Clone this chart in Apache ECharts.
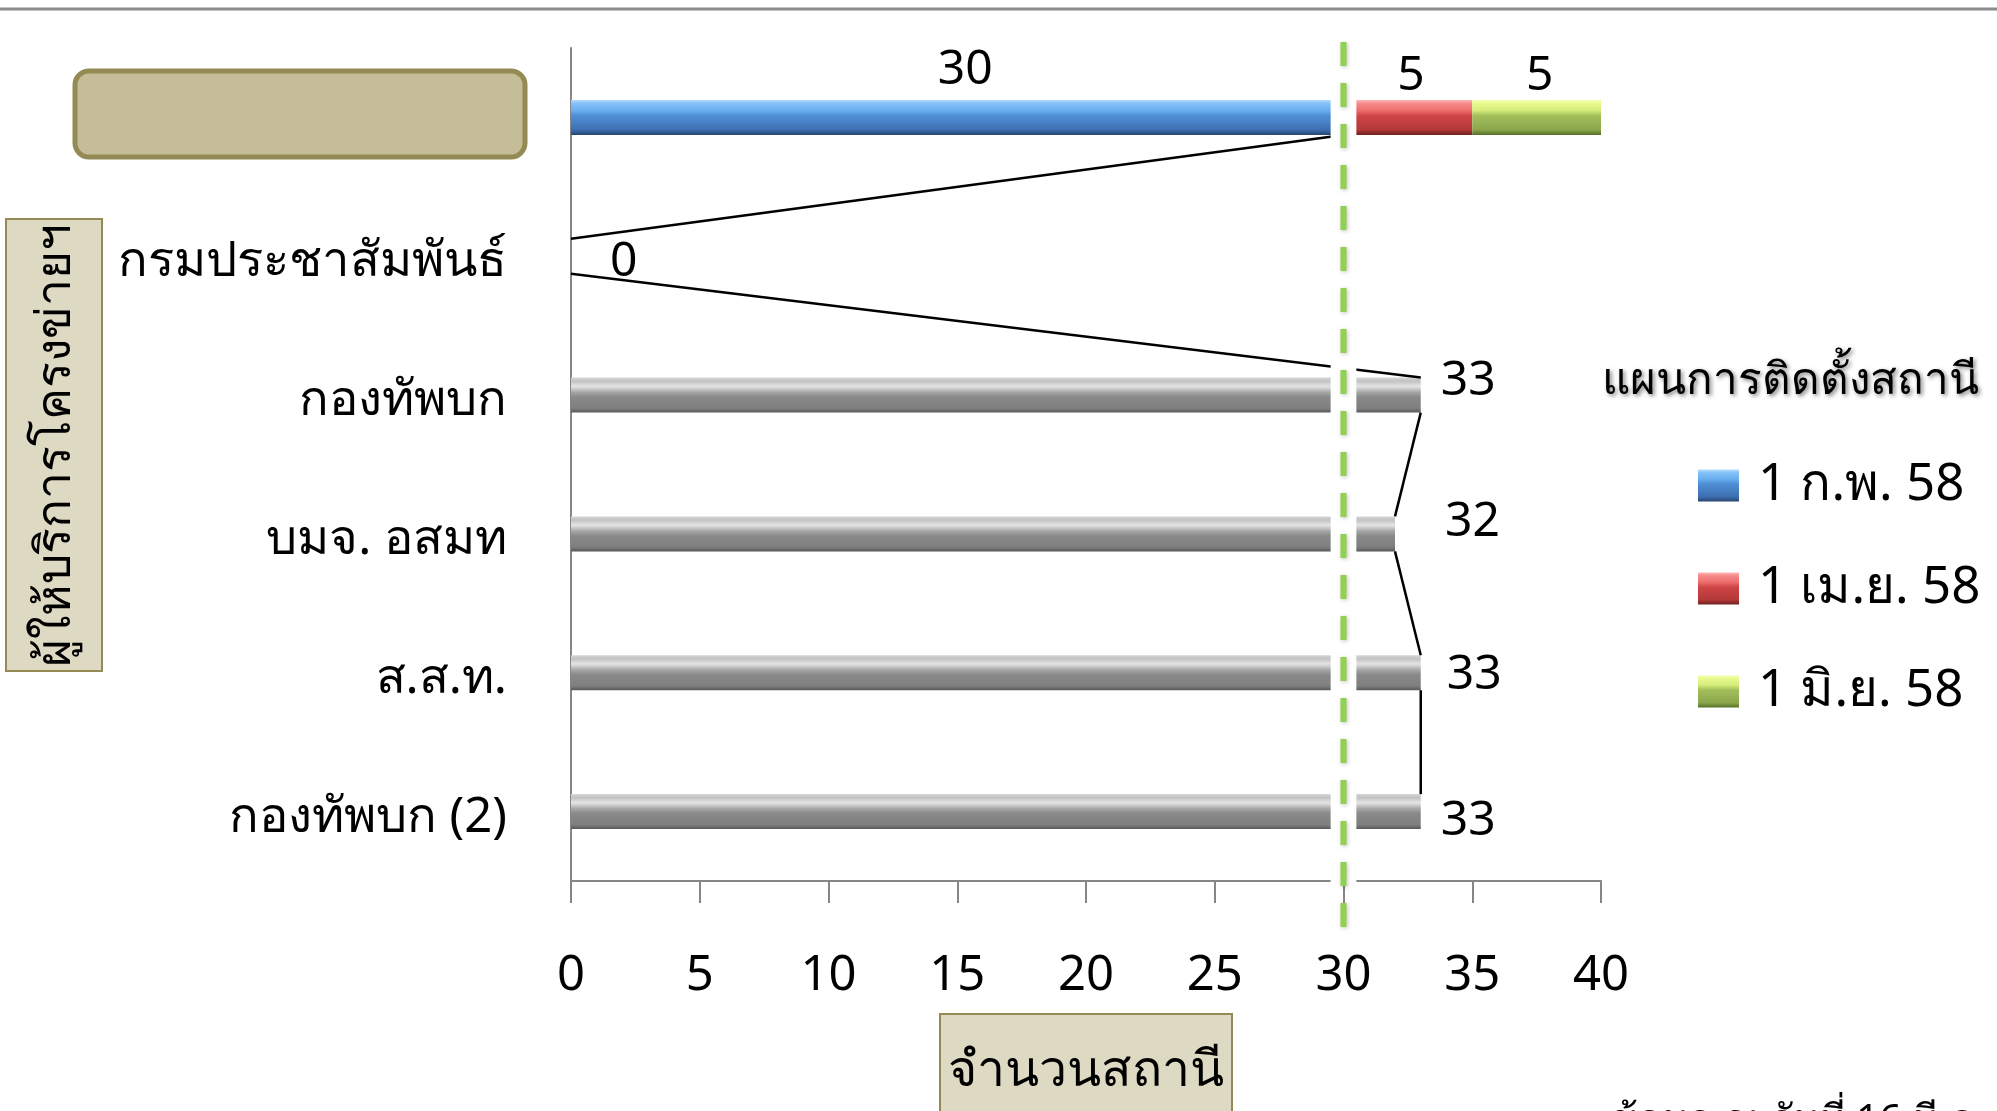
<!DOCTYPE html>
<html>
<head>
<meta charset="utf-8">
<script src="https://cdn.jsdelivr.net/npm/echarts@6/dist/echarts.min.js"></script>
<style>
html,body{margin:0;padding:0;background:#fff;}
#chart{width:1997px;height:1111px;}
</style>
</head>
<body>
<div id="chart"></div>
<script>
// ---- data ----
const categories = ['', 'กรมประชาสัมพันธ์', 'กองทัพบก', 'บมจ. อสมท', 'ส.ส.ท.', 'กองทัพบก (2)'];
const seriesNames = ['1 ก.พ. 58', '1 เม.ย. 58', '1 มิ.ย. 58'];
const febValues = [30, 0, 33, 32, 33, 33];
const aprValues = [5, null, null, null, null, null];
const junValues = [5, null, null, null, null, null];
const xTicks = [0, 5, 10, 15, 20, 25, 30, 35, 40];
const targetValue = 30;

// ---- styles ----
const FONT = "'Noto Sans', 'DejaVu Sans', sans-serif";
const BAR_W = 35;
const grad = (stops) => new echarts.graphic.LinearGradient(0, 0, 0, 1, stops.map((c) => ({offset: c[0], color: c[1]})));
const blueGrad = grad([[0,'#b6dcff'],[0.1,'#84c2f8'],[0.3,'#6aaef0'],[0.45,'#4f8fd6'],[0.85,'#3d6fb0'],[1,'#28456f']]);
const redGrad = grad([[0,'#ffb8b8'],[0.1,'#f78a8a'],[0.3,'#ee6e6e'],[0.45,'#cf4646'],[0.85,'#b33838'],[1,'#702020']]);
const greenGrad = grad([[0,'#f6ffb0'],[0.1,'#e8fb8e'],[0.3,'#d4ec78'],[0.45,'#a3bf5c'],[0.85,'#8ba64b'],[1,'#56702a']]);
const grayGrad = grad([[0,'#d6d6d6'],[0.1,'#c2c2c2'],[0.25,'#e4e4e4'],[0.42,'#a6a6a6'],[0.55,'#8a8a8a'],[0.88,'#7e7e7e'],[1,'#585858']]);
// per-row label placement for first series (style only)
const febLabelStyle = [
  {position: 'top', distance: 6, offset: [8, 0]},
  {position: 'right', distance: 39, offset: [0, 6]},
  {position: 'right', distance: 20, offset: [0, -14]},
  {position: 'right', distance: 50, offset: [0, -12]},
  {position: 'right', distance: 26, offset: [0, 3]},
  {position: 'right', distance: 20, offset: [0, 10]}
];

const chart = echarts.init(document.getElementById('chart'), null, {renderer: 'canvas'});

const labelBase = {show: true, color: '#000', fontSize: 48, fontFamily: FONT};

const febData = febValues.map((v, i) => ({
  value: v,
  itemStyle: {color: i === 0 ? blueGrad : grayGrad},
  label: Object.assign({}, labelBase, febLabelStyle[i])
}));

// series lines connecting bar ends of the first series
const seriesLineData = [];
for (let i = 0; i < febValues.length - 1; i++) {
  seriesLineData.push([febValues[i], i, febValues[i + 1], i + 1]);
}

const option = {
  backgroundColor: '#fff',
  animation: false,
  textStyle: {fontFamily: FONT},
  title: {
    text: 'แผนการติดตั้งสถานี',
    left: 1597, top: 354,
    textStyle: {
      fontFamily: FONT, fontSize: 44, fontWeight: 'normal', color: '#000',
      textShadowColor: 'rgba(0,0,0,0.5)', textShadowBlur: 4, textShadowOffsetX: 2, textShadowOffsetY: 2
    }
  },
  legend: {
    orient: 'vertical',
    left: 1693, top: 455,
    itemWidth: 41, itemHeight: 32,
    itemGap: 52,
    icon: 'rect',
    data: seriesNames,
    textStyle: {fontFamily: FONT, fontSize: 51, color: '#000', padding: [0, 0, 0, 14]}
  },
  grid: {left: 571, right: 396, top: 48, bottom: 230, containLabel: false, outerBoundsMode: 'none'},
  xAxis: {
    type: 'value', min: 0, max: 40, interval: 5,
    axisLine: {show: true, lineStyle: {color: '#868686', width: 2}},
    axisTick: {show: true, length: 22, lineStyle: {color: '#868686', width: 2}},
    splitLine: {show: false},
    axisLabel: {
      margin: 71, fontSize: 49, color: '#000', fontFamily: FONT,
      formatter: (v) => xTicks.indexOf(v) >= 0 ? String(v) : ''
    },
    name: 'จำนวนสถานี',
    nameLocation: 'middle',
    nameGap: 134,
    nameTextStyle: {
      fontFamily: FONT, fontSize: 50, color: '#000',
      backgroundColor: '#ddd9c3', borderColor: '#948a54', borderWidth: 2,
      padding: [32, 7, 40, 7], verticalAlign: 'top'
    }
  },
  yAxis: {
    type: 'category', inverse: true, data: categories,
    axisLine: {show: true, lineStyle: {color: '#868686', width: 2}},
    axisTick: {show: false},
    axisLabel: {margin: 64, fontSize: 49, color: '#000', fontFamily: FONT,
                verticalAlign: 'top', lineHeight: 12}
  },
  graphic: [
    {type: 'line', shape: {x1: 0, y1: 9, x2: 1997, y2: 9}, style: {stroke: '#8c8c8c', lineWidth: 3}},
    {type: 'rect', shape: {x: 75, y: 71, width: 450, height: 86, r: 14},
     style: {fill: '#c4bd97', stroke: '#948a54', lineWidth: 5}},
    {type: 'rect', shape: {x: 6, y: 219, width: 96, height: 452},
     style: {fill: '#ddd9c3', stroke: '#948a54', lineWidth: 2}},
    {type: 'text', x: 56, y: 445, rotation: Math.PI / 2,
     style: {text: 'ผู้ให้บริการโครงข่ายฯ', fontFamily: FONT, fontSize: 48, fill: '#000',
             textAlign: 'center', textVerticalAlign: 'middle'}},
    {type: 'text', x: 1611, y: 1102,
     style: {text: 'ข้อมูล ณ วันที่ 16 มี.ค. 58', fontFamily: FONT, fontSize: 40, fill: '#000',
             textAlign: 'left', textVerticalAlign: 'top'}}
  ],
  series: [
    {
      name: seriesNames[0], type: 'bar', stack: 'plan', barWidth: BAR_W,
      itemStyle: {color: blueGrad},
      data: febData, z: 2
    },
    {
      name: seriesNames[1], type: 'bar', stack: 'plan', barWidth: BAR_W,
      itemStyle: {color: redGrad},
      label: Object.assign({}, labelBase, {position: 'top', distance: 0, offset: [3, 0]}),
      data: aprValues, z: 2
    },
    {
      name: seriesNames[2], type: 'bar', stack: 'plan', barWidth: BAR_W,
      itemStyle: {color: greenGrad},
      label: Object.assign({}, labelBase, {position: 'top', distance: 0, offset: [3, 0]}),
      data: junValues, z: 2
    },
    {
      name: 'series-lines', type: 'custom', z: 3, silent: true,
      encode: {x: [0, 2], y: [1, 3]},
      data: seriesLineData,
      renderItem: function (params, api) {
        const p1 = api.coord([api.value(0), api.value(1)]);
        const p2 = api.coord([api.value(2), api.value(3)]);
        return {
          type: 'line',
          shape: {x1: p1[0], y1: p1[1] + BAR_W / 2, x2: p2[0], y2: p2[1] - BAR_W / 2},
          style: {stroke: '#000', lineWidth: 2.5}
        };
      }
    },
    {
      name: 'gap', type: 'custom', z: 5, silent: true, clip: false,
      data: [[targetValue]],
      encode: {x: 0},
      renderItem: function (params, api) {
        const cs = params.coordSys;
        const xa = api.coord([api.value(0) - 0.5, 0])[0];
        const xb = api.coord([api.value(0) + 0.5, 0])[0];
        return {
          type: 'rect',
          shape: {x: xa, y: cs.y - 12, width: xb - xa, height: cs.height + 15},
          style: {fill: '#fff'}
        };
      }
    },
    {
      name: 'target', type: 'custom', z: 6, silent: true, clip: false,
      data: [[targetValue]],
      encode: {x: 0},
      renderItem: function (params, api) {
        const cs = params.coordSys;
        const x = api.coord([api.value(0), 0])[0];
        return {
          type: 'line',
          shape: {x1: x, y1: cs.y - 6, x2: x, y2: cs.y + cs.height + 50},
          style: {stroke: '#92d050', lineWidth: 6, lineDash: [24, 17],
                  shadowBlur: 4, shadowColor: 'rgba(0,0,0,0.25)', shadowOffsetX: 1, shadowOffsetY: 1}
        };
      }
    }
  ]
};
chart.setOption(option);
</script>
</body>
</html>
